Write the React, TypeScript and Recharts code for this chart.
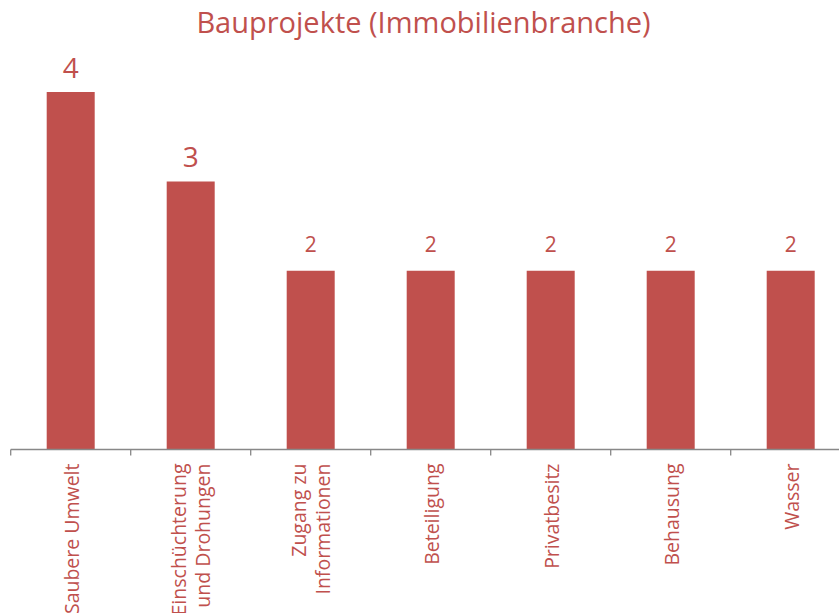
import { BarChart, Bar, XAxis, YAxis, LabelList } from 'recharts';

const categories = [
  'Saubere Umwelt',
  'Einschüchterung und Drohungen',
  'Zugang zu Informationen',
  'Beteiligung',
  'Privatbesitz',
  'Behausung',
  'Wasser',
];
const tickLines = [
  ['Saubere Umwelt'],
  ['Einschüchterung', 'und Drohungen'],
  ['Zugang zu', 'Informationen'],
  ['Beteiligung'],
  ['Privatbesitz'],
  ['Behausung'],
  ['Wasser'],
];
const counts = [4, 3, 2, 2, 2, 2, 2];

const data = categories.map((name, i) => ({ name, nums: counts[i] }));

const RED = '#C0504D';
const FONT = '"Open Sans", sans-serif';
const CHART_W = 851;
const MARGIN_L = 10.7;
const MARGIN_R = 0.3;
const HALF_BAND = (CHART_W - MARGIN_L - MARGIN_R) / categories.length / 2;

function CategoryTick(props: any) {
  const { x, y, index } = props;
  const lines = tickLines[index] || [props.payload.value];
  const offsets = lines.length === 1 ? [8] : [-4.5, 19.5];
  return (
    <g>
      <line x1={x - HALF_BAND} y1={y} x2={x - HALF_BAND} y2={y + 6} stroke="#888888" strokeWidth={1.3} />
      {lines.map((t: string, i: number) => {
        const tx = x + offsets[i];
        const ty = y + 14;
        return (
          <text
            key={i}
            x={tx}
            y={ty}
            transform={`rotate(-90, ${tx}, ${ty})`}
            textAnchor="end"
            fill={RED}
            fontSize={19.5}
            fontFamily={FONT}
          >
            {t}
          </text>
        );
      })}
    </g>
  );
}

function ValueLabel(props: any) {
  const { x, y, width, value } = props;
  const big = value >= 3;
  return (
    <text
      x={x + width / 2}
      y={y - (big ? 14 : 19)}
      textAnchor="middle"
      fill={RED}
      fontSize={big ? 28 : 21}
      fontFamily={FONT}
    >
      {value}
    </text>
  );
}

export default function App() {
  return (
    <div style={{ position: 'absolute', left: 0, top: 0, width: 839, height: 613, overflow: 'hidden', background: '#fff' }}>
      <div
        style={{
          position: 'absolute',
          left: 0,
          width: 839,
          top: 0,
          textAlign: 'center',
          color: RED,
          fontFamily: FONT,
          fontSize: 29,
          lineHeight: '44px',
          paddingLeft: 4,
        }}
      >
        Bauprojekte (Immobilienbranche)
      </div>
      <BarChart
        width={CHART_W}
        height={613}
        data={data}
        margin={{ top: 92, right: MARGIN_R, left: MARGIN_L, bottom: 0 }}
        barCategoryGap="30%"
      >
        <XAxis
          dataKey="name"
          interval={0}
          height={163.5}
          tickSize={0}
          tickMargin={0}
          tickLine={false}
          axisLine={{ stroke: '#888888', strokeWidth: 1.3 }}
          tick={<CategoryTick />}
        />
        <YAxis hide domain={[0, 4]} />
        <Bar dataKey="nums" fill={RED} isAnimationActive={false}>
          <LabelList dataKey="nums" content={<ValueLabel />} />
        </Bar>
      </BarChart>
    </div>
  );
}
